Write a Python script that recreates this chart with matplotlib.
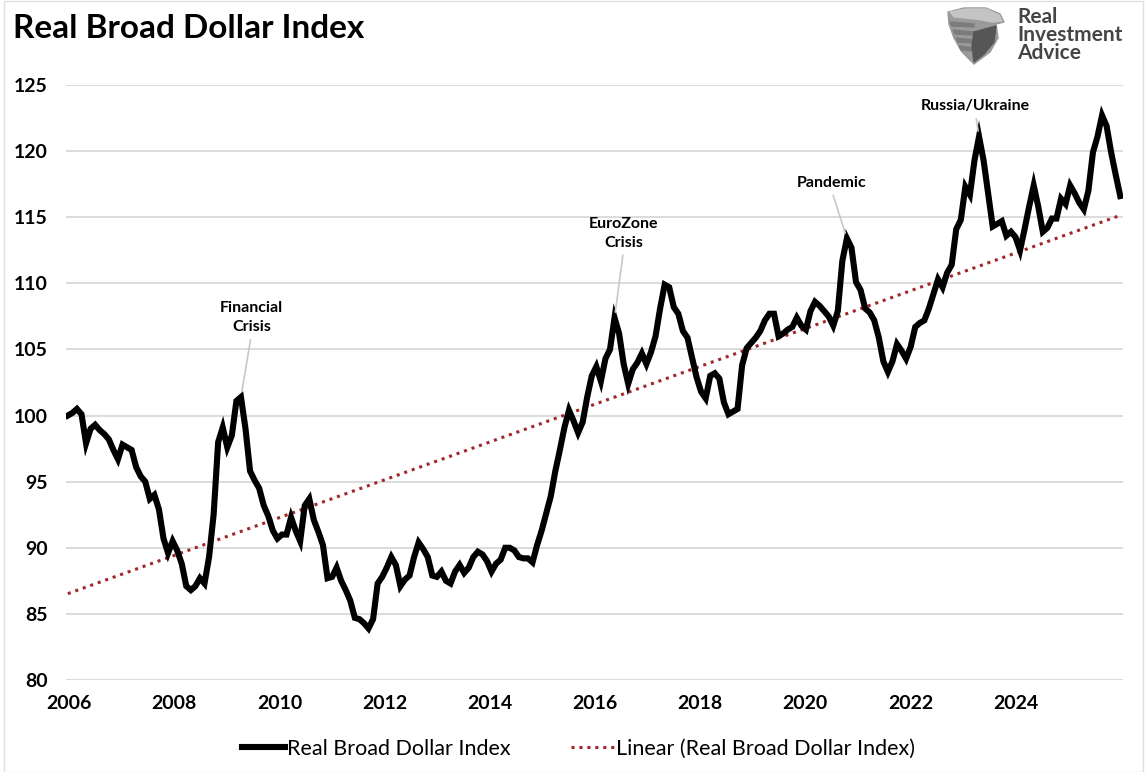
import numpy as np
import matplotlib
matplotlib.use("Agg")
import matplotlib.pyplot as plt
from matplotlib.patches import Polygon, Rectangle

plt.rcParams['font.family'] = ['Lato', 'DejaVu Sans']

# monthly values, Jan 2006 .. Apr 2025
dollar_index = [
    100.0, 100.2, 100.5, 100.1, 97.9, 99.0, 99.3, 98.9, 98.6, 98.2,
    97.4, 96.7, 97.8, 97.6, 97.4, 96.1, 95.4, 95.0, 93.7, 94.0,
    92.9, 90.7, 89.6, 90.5, 89.8, 88.8, 87.1, 86.8, 87.1, 87.7,
    87.3, 89.3, 92.5, 98.0, 99.1, 97.6, 98.5, 101.1, 101.4, 99.0,
    95.8, 95.1, 94.5, 93.2, 92.4, 91.3, 90.7, 91.0, 91.0, 92.3,
    91.3, 90.5, 93.2, 93.7,
    92.1, 91.2, 90.2, 87.7, 87.8, 88.5, 87.5, 86.8, 86.0, 84.7,
    84.6, 84.3, 83.9, 84.6, 87.3, 87.8, 88.5, 89.3, 88.7, 87.1,
    87.6, 87.9, 89.3, 90.4, 89.9, 89.3, 87.9, 87.8, 88.2, 87.5,
    87.3, 88.2, 88.7, 88.1, 88.5, 89.3, 89.7, 89.5, 89.0, 88.2,
    88.8, 89.1, 90.0, 90.0, 89.8, 89.3, 89.2, 89.2, 88.9, 90.2,
    91.3, 92.6, 93.9, 95.8,
    97.4, 99.1, 100.4, 99.6, 98.7, 99.5, 101.4, 103.0, 103.7, 102.6,
    104.3, 105.0, 107.4, 106.2, 103.9, 102.4, 103.5, 104.0, 104.7, 103.9,
    104.8, 106.0, 108.1, 109.9, 109.7, 108.2, 107.7, 106.4, 105.9, 104.4,
    102.9, 101.8, 101.3, 103.0, 103.2, 102.8, 101.0, 100.1, 100.3, 100.5,
    103.8, 105.1, 105.5, 105.9, 106.4, 107.2,
    107.7, 107.7, 106.0, 106.2, 106.5, 106.7, 107.4, 106.8, 106.5, 107.9,
    108.6, 108.3, 107.9, 107.5, 106.8, 107.9, 111.7, 113.4, 112.7, 110.1,
    109.5, 108.1, 107.8, 107.2, 105.9, 104.1, 103.3, 104.1, 105.4, 104.9,
    104.3, 105.2, 106.7, 107.0, 107.2, 108.1, 109.2, 110.3, 109.7, 110.8,
    111.4, 114.1, 114.8, 117.3, 116.7, 119.3, 121.1, 119.3, 116.8, 114.3,
    114.5, 114.7, 113.6, 113.9, 113.5, 112.5, 114.1, 115.8, 117.4, 115.8,
    113.9, 114.2, 114.9, 114.9, 116.4, 116.0, 117.4, 116.8, 116.1, 115.6,
    117.0, 119.9, 121.1, 122.7, 121.9, 119.9, 118.2, 116.6,
]
year_labels = ['2006', '2008', '2010', '2012', '2014', '2016', '2018', '2020', '2022', '2024']
event_labels = ['Financial\nCrisis', 'EuroZone\nCrisis', 'Pandemic', 'Russia/Ukraine']
event_months = [38, 120, 171, 200]
# where the labels sit (month, value)
event_text_pos = [(40.3, 107.4), (122.0, 113.8), (167.6, 117.6), (199.2, 123.4)]

vals = np.array(dollar_index)
idx = np.arange(len(vals))
slope, icept = np.polyfit(idx, vals, 1)
trend = slope * idx + icept

W, H = 1146, 772
fig = plt.figure(figsize=(W / 100, H / 100), dpi=100)
ax = fig.add_axes([66 / W, 1 - 680 / H, (1123 - 66) / W, (680 - 85) / H])

ax.plot(idx, vals, color='black', lw=4.4, solid_joinstyle='miter', zorder=3,
        label='Real Broad Dollar Index')
ax.plot(idx, trend, color='#a0282d', lw=2.2, ls=(0, (1, 1.6)), zorder=2,
        label='Linear (Real Broad Dollar Index)')

ax.set_xlim(-0.4, 231.6)
ax.set_ylim(80, 125)
ax.set_yticks(range(80, 126, 5))
ax.set_xticks(np.linspace(0.3, 208.0, len(year_labels)))
ax.set_xticklabels(year_labels)
ax.grid(axis='y', color='#d9d9d9', lw=1.3)
ax.set_axisbelow(True)
for s in ax.spines.values():
    s.set_visible(False)
ax.tick_params(length=0, labelsize=14)
ax.tick_params(axis='y', pad=13)
ax.tick_params(axis='x', pad=11)
for lab in ax.get_xticklabels() + ax.get_yticklabels():
    lab.set_fontweight('bold')

for lbl, m, pos in zip(event_labels, event_months, event_text_pos):
    ax.annotate(lbl, xy=(m, vals[m]), xytext=pos, ha='center', va='center',
                fontsize=11.5, fontweight='bold', linespacing=1.45, zorder=4,
                arrowprops=dict(arrowstyle='-', color='#c8c8c8', lw=1.2,
                                relpos=(0.5, 0), shrinkA=2, shrinkB=4))

fig.text(13 / W, 1 - 28 / H, 'Real Broad Dollar Index', fontsize=24,
         fontweight='bold', va='center', ha='left')

fig.legend(loc='center', bbox_to_anchor=(0.505, 1 - 749 / H), ncol=2,
           frameon=False, handlelength=2.0, handletextpad=0.1,
           columnspacing=2.8, prop={'size': 15.5})

# logo
lax = fig.add_axes([944 / W, 1 - 66 / H, 62 / W, 62 / H])
lax.set_xlim(0, 62)
lax.set_ylim(62, 0)
lax.axis('off')
# shield body
lax.add_patch(Polygon([(4, 8), (20, 4), (42, 4), (56, 10), (60, 18), (52, 20),
                       (54, 34), (46, 48), (30, 60), (18, 48), (10, 34), (5, 20)],
                      closed=True, color='#9a9a9a'))
# head
lax.add_patch(Polygon([(6, 8), (22, 5), (42, 5), (55, 11), (58, 17), (48, 18),
                       (38, 16), (22, 14), (10, 13)], closed=True, color='#c4c4c4'))
# wing feathers
for k in range(4):
    y0 = 18 + k * 8
    lax.add_patch(Polygon([(6 + k * 3, y0), (30, y0 + 2), (30, y0 + 5), (8 + k * 3, y0 + 4)],
                          closed=True, color='#7c7c7c'))
# dark lower part
lax.add_patch(Polygon([(30, 28), (52, 22), (50, 38), (40, 50), (30, 58), (28, 42)],
                      closed=True, color='#565656'))
fig.text(1017 / W, 1 - 35 / H, 'Real\nInvestment\nAdvice', fontsize=15,
         fontweight='bold', color='#454545', va='center', ha='left',
         linespacing=0.88)

fig.patches.append(Rectangle((4 / W, 0), (1143 - 4) / W, 1 - 1 / H, fill=False,
                             edgecolor='#e0e0e0', lw=1, transform=fig.transFigure))

fig.savefig('out.png', dpi=100, facecolor='white')
